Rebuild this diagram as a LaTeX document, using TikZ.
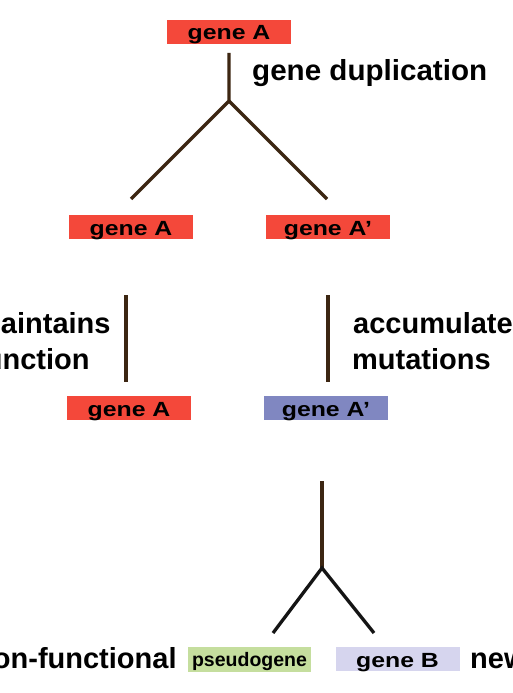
\documentclass[tikz,border=0pt]{standalone}
\usepackage{fontspec}
\setmainfont{Liberation Sans}
\definecolor{genered}{HTML}{F4483A}
\definecolor{geneblue}{HTML}{8087C1}
\definecolor{genegreen}{HTML}{C5DE9E}
\definecolor{genelav}{HTML}{D6D5EE}
\definecolor{stem}{HTML}{3C2612}
\definecolor{branchblack}{HTML}{141414}
\begin{document}
\begin{tikzpicture}[x=1pt,y=-1pt,
  genebox/.style={rectangle, inner sep=0pt, minimum width=124pt, minimum height=24pt,
    text height=20pt, text depth=4pt, font=\fontsize{20.5}{24}\selectfont\bfseries},
  pseudobox/.style={rectangle, inner sep=0pt, minimum width=123pt, minimum height=25pt,
    text height=19pt, text depth=6pt, font=\fontsize{19.5}{24}\selectfont\bfseries},
  lbl/.style={anchor=base west, inner sep=0pt, font=\fontsize{29}{34}\selectfont\bfseries},
  stemline/.style={draw=stem, line width=3.3pt},
  blackline/.style={draw=branchblack, line width=3.3pt}]
\useasboundingbox (0,0) rectangle (513,693);
\clip (0,0) rectangle (513,693);
\fill[white] (0,0) rectangle (513,693);

% boxes
\node[genebox, fill=genered] (top) at (229,32) {\scalebox{1.21}[1]{gene A}};
\node[genebox, fill=genered] (midL) at (131,227) {\scalebox{1.21}[1]{gene A}};
\node[genebox, fill=genered] (midR) at (328,227) {\scalebox{1.21}[1]{gene A’}};
\node[genebox, fill=genered] (lowL) at (129,408) {\scalebox{1.21}[1]{gene A}};
\node[genebox, fill=geneblue] (lowR) at (326,408) {\scalebox{1.21}[1]{gene A’}};
\node[pseudobox, fill=genegreen] (pseudo) at (249.5,659.5) {pseudogene};
\node[genebox, fill=genelav] (geneB) at (397.5,659) {\scalebox{1.21}[1]{gene B}};

% labels
\node[lbl] (dup) at (252,81) {\scalebox{1.02}[1]{gene duplication}};
\node[lbl] (maint1) at (-25,333) {maintains};
\node[lbl] (maint2) at (-25,369) {function};
\node[lbl] (accum1) at (353,333) {accumulates};
\node[lbl] (accum2) at (352,369) {mutations};
\node[lbl] (nonf) at (-25,668) {non-functional};
\node[lbl] (newf) at (470,668) {new function};

% top fork
\coordinate (t0) at (229,53);
\coordinate (t1) at (229,101);
\coordinate (t2) at (131,199);
\coordinate (t3) at (327,199);
\draw[stemline, line join=miter] (t0) -- (t1) -- (t2);
\draw[stemline, line join=miter] (t1) -- (t3);

% middle lines
\coordinate (m1a) at (126,295);
\coordinate (m1b) at (126,382);
\coordinate (m2a) at (328,295);
\coordinate (m2b) at (328,382);
\draw[stemline] (m1a) -- (m1b);
\draw[stemline] (m2a) -- (m2b);

% bottom fork
\coordinate (b0) at (322,481);
\coordinate (b1) at (322,568);
\coordinate (b2) at (273,633);
\coordinate (b3) at (374,633);
\draw[stemline] (b0) -- (b1);
\draw[blackline, line join=miter] (b2) -- (b1) -- (b3);
\end{tikzpicture}
\end{document}
